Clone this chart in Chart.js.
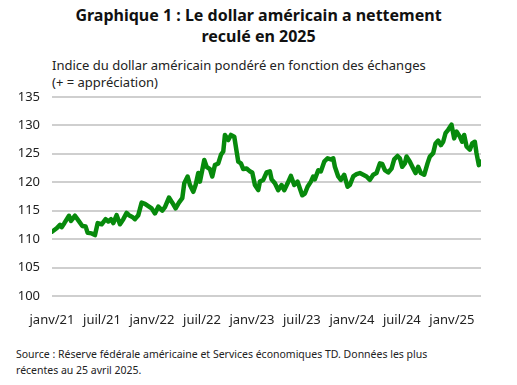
<!DOCTYPE html>
<html>
<head>
<meta charset="utf-8">
<script src="https://cdn.jsdelivr.net/npm/chart.js@4"></script>
<style>
  body { margin: 0; width: 517px; height: 385px; background: #fff; font-family: 'Noto Sans', sans-serif; color: #222; position: relative; overflow: hidden; }
  #title { position: absolute; top: 5px; left: 0; width: 517px; text-align: center; font-size: 16px; font-weight: bold; line-height: 21px; color: #111; }
  #subtitle { position: absolute; top: 57px; left: 52px; font-size: 13px; line-height: 17px; color: #222; }
  #chartBox { position: absolute; top: 77px; left: 0; width: 517px; height: 257px; }
  #note { position: absolute; top: 346px; left: 16px; width: 480px; font-size: 10.5px; line-height: 16px; color: #222; }
</style>
</head>
<body>
<div id="title">Graphique 1 : Le dollar américain a nettement<br>reculé en 2025</div>
<div id="subtitle">Indice du dollar américain pondéré en fonction des échanges<br>(+ = appréciation)</div>
<div id="chartBox"><canvas id="usd_chart"></canvas></div>
<div id="note">Source : Réserve fédérale américaine et Services économiques TD. Données les plus<br>récentes au 25 avril 2025.</div>
<script>
// months since janv. 2021
const months = [0, 0.56, 0.96, 1.16, 1.48, 2.04, 2.28, 2.76, 3.16, 3.64, 4.04, 4.28, 4.76, 5.16, 5.48, 5.96,
    6.44, 6.76, 7.08, 7.36, 7.76, 8.16, 8.56, 8.96, 9.24, 9.64, 9.96, 10.36, 10.76, 11.16, 11.56, 11.96,
    12.36, 12.76, 13.24, 13.56, 14.04, 14.44, 14.84, 15.24, 15.64, 15.88, 16.28, 16.56, 16.96, 17.24, 17.56, 17.76,
    18.28, 18.56, 18.96, 19.24, 19.56, 19.96, 20.28, 20.56, 20.76, 21.16, 21.48, 21.88, 22.16, 22.36, 22.68, 22.96,
    23.36, 23.76, 24.04, 24.36, 24.76, 24.96, 25.36, 25.76, 26.16, 26.36, 26.76, 27.16, 27.56, 27.88, 28.28, 28.68,
    29.08, 29.48, 29.76, 30.04, 30.36, 30.68, 31.08, 31.36, 31.56, 31.96, 32.28, 32.68, 33.08, 33.48, 33.76, 33.96,
    34.36, 34.68, 35.08, 35.48, 35.76, 36.16, 36.56, 36.96, 37.36, 37.76, 38.16, 38.56, 38.96, 39.36, 39.64, 39.96,
    40.36, 40.76, 41.08, 41.48, 41.76, 42.04, 42.36, 42.56, 42.96, 43.36, 43.64, 43.96, 44.28, 44.68, 45.08, 45.36,
    45.76, 46.04, 46.36, 46.68, 46.96, 47.24, 47.56, 47.96, 48.28, 48.56, 48.96, 49.24, 49.48, 49.76, 50.16, 50.44,
    50.76, 50.96, 51.24, 51.48];

const usdIndex = [111.3, 111.9, 112.5, 112.1, 112.8, 114.1, 113.2, 114.1, 113.3, 112.3, 112.2, 111.1, 111.0, 110.7, 112.8, 112.6,
    113.5, 113.1, 113.5, 112.8, 114.2, 112.6, 113.5, 114.6, 114.2, 113.9, 113.5, 114.2, 116.4, 116.2, 115.8, 115.4,
    114.5, 115.7, 115.0, 115.6, 117.3, 116.4, 115.4, 116.4, 117.2, 119.8, 121.0, 119.5, 118.3, 119.5, 121.6, 120.1,
    123.9, 122.7, 122.3, 121.0, 123.0, 123.3, 124.8, 125.4, 128.3, 127.4, 128.3, 128.0, 125.4, 123.6, 123.3, 122.3,
    122.4, 121.9, 121.7, 119.5, 118.6, 120.1, 120.4, 121.7, 121.9, 120.5, 119.8, 118.6, 119.5, 118.6, 119.8, 121.1,
    119.5, 120.1, 118.9, 117.7, 118.0, 119.2, 120.1, 121.0, 120.5, 122.1, 121.9, 123.6, 124.2, 124.0, 124.2, 122.7,
    121.0, 120.4, 121.3, 119.2, 119.5, 121.0, 121.4, 121.6, 121.3, 121.0, 120.4, 121.3, 121.6, 123.3, 123.2, 122.1,
    121.7, 122.4, 124.0, 124.6, 124.2, 122.7, 123.3, 124.5, 123.6, 122.4, 121.6, 122.7, 121.6, 121.3, 123.3, 124.5,
    125.1, 126.8, 127.3, 126.5, 127.1, 128.6, 129.2, 130.1, 127.7, 128.9, 128.0, 127.1, 128.3, 126.3, 125.7, 126.8,
    127.1, 125.1, 123.0, 123.6];

const xTickPos = [0, 6, 12, 18, 24, 30, 36, 42, 48];
const xTickLabels = ['janv/21', 'juil/21', 'janv/22', 'juil/22', 'janv/23', 'juil/23', 'janv/24', 'juil/24', 'janv/25'];

const USD_graph = document.getElementById('usd_chart').getContext('2d');

const USD_config = {
    type: 'line',
    data: {
        datasets: [{
            label: 'Indice du dollar américain',
            data: months.map((m, i) => ({ x: m, y: usdIndex[i] })),
            borderColor: '#078a0c',
            backgroundColor: '#078a0c',
            borderWidth: 4.5,
            pointRadius: 0,
            tension: 0,
            borderJoinStyle: 'round',
            borderCapStyle: 'round',
            fill: false
        }]
    },
    options: {
        animation: false,
        responsive: true,
        maintainAspectRatio: false,
        layout: { padding: { top: 3, right: 36, left: 0, bottom: 0 } },
        scales: {
            x: {
                type: 'linear',
                min: 0,
                max: 51.5,
                afterBuildTicks: scale => { scale.ticks = xTickPos.map(v => ({ value: v })); },
                afterFit: scale => { scale.height = 38; },
                ticks: {
                    autoSkip: false,
                    maxRotation: 0,
                    padding: 16,
                    color: '#222',
                    font: { family: 'Noto Sans', size: 13 },
                    callback: value => xTickLabels[xTickPos.indexOf(value)]
                },
                grid: { display: false, drawTicks: false },
                border: { display: false }
            },
            y: {
                min: 100,
                max: 135,
                afterFit: scale => { scale.width = 52; },
                ticks: {
                    stepSize: 5,
                    padding: 12,
                    color: '#222',
                    font: { family: 'Noto Sans', size: 13 }
                },
                grid: { color: '#cfcfcf', lineWidth: 2, drawTicks: false },
                border: { display: false }
            }
        },
        plugins: {
            legend: { display: false },
            tooltip: { enabled: false }
        }
    }
};

const USD_chart = new Chart(USD_graph, USD_config);
</script>
</body>
</html>
